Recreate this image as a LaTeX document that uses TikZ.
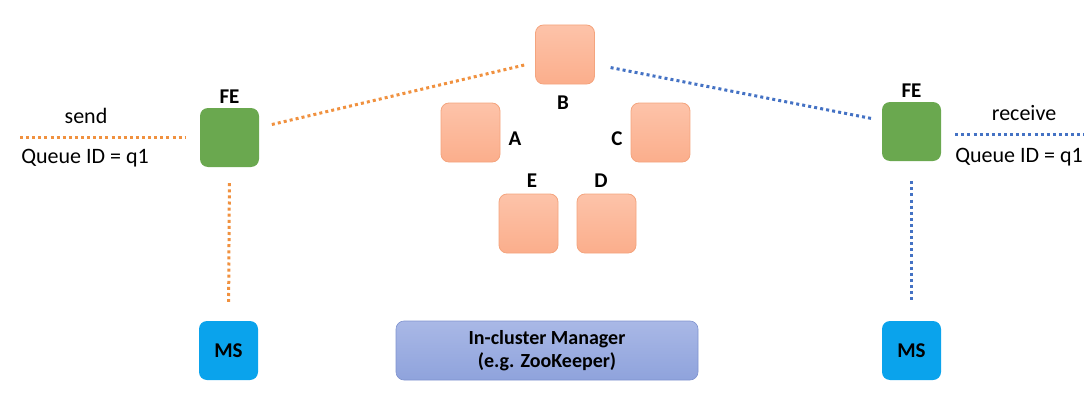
\documentclass[tikz,border=0pt]{standalone}
\usepackage{fontspec}
\setmainfont{Carlito}
\usetikzlibrary{positioning, calc}

\definecolor{feGreen}{HTML}{6AA84F}
\definecolor{msBlue}{HTML}{0AA3EC}
\definecolor{nodeTop}{HTML}{FDC3A9}
\definecolor{nodeBot}{HTML}{FBAE8C}
\definecolor{nodeLine}{HTML}{F4A47E}
\definecolor{mgrTop}{HTML}{A9B8E6}
\definecolor{mgrBot}{HTML}{8FA3DC}
\definecolor{mgrLine}{HTML}{7F93CF}
\definecolor{lineOrange}{HTML}{F0913F}
\definecolor{lineBlue}{HTML}{4472C4}

\begin{document}
\begin{tikzpicture}[x=1pt, y=-1pt,
    box/.style={rounded corners=8pt, minimum width=59pt, minimum height=59pt, inner sep=0pt},
    fe/.style={box, fill=feGreen},
    ms/.style={box, fill=msBlue, font=\fontsize{21}{23}\selectfont\bfseries},
    broker/.style={box, draw=nodeLine, line width=0.8pt, top color=nodeTop, bottom color=nodeBot},
    tag/.style={font=\fontsize{21}{23}\selectfont\bfseries},
    plain/.style={font=\fontsize{22}{24}\selectfont},
    dots/.style={line width=3pt, dash pattern=on 3pt off 3.1pt},
    orangedots/.style={dots, draw=lineOrange},
    bluedots/.style={dots, draw=lineBlue}
]
    \useasboundingbox (0,0) rectangle (1084,412);

    % Front ends
    \node[fe] (feL) at (229.5,137.5) {};
    \node[fe] (feR) at (911.5,131.5) {};
    \node[tag, above=1pt of feL] (feLlab) {FE};
    \node[tag, above=1pt of feR] (feRlab) {FE};

    % Message stores
    \node[ms] (msL) at (228.5,350.5) {MS};
    \node[ms] (msR) at (911.5,350.5) {MS};

    % Brokers
    \node[broker] (nB) at (565,54.5) {};
    \node[broker] (nA) at (470.5,132.5) {};
    \node[broker] (nC) at (660.5,132.5) {};
    \node[broker] (nE) at (528.5,223.5) {};
    \node[broker] (nD) at (606.5,223.5) {};
    \node[tag] (labB) at (563,103) {B};
    \node[tag] (labA) at (515,139) {A};
    \node[tag] (labC) at (617,139) {C};
    \node[tag] (labE) at (532,181) {E};
    \node[tag] (labD) at (601,181) {D};

    % Manager
    \node[rounded corners=8pt, minimum width=302pt, minimum height=59pt, draw=mgrLine, line width=0.6pt,
          top color=mgrTop, bottom color=mgrBot, align=center,
          font=\fontsize{20}{23}\selectfont\bfseries] (mgr) at (547,350.5) {In-cluster Manager\\(e.g. ZooKeeper)};

    % Client ends
    \coordinate (inL) at (20,137);
    \coordinate (outR) at (1090,134);
    \node[plain] (send) at (86,116) {send};
    \node[plain] (qidL) at (85,158) {Queue ID = q1};
    \node[plain] (recv) at (1024,113) {receive};
    \node[plain, anchor=east, inner xsep=1pt] (qidR) at (1084,157) {Queue ID = q1};

    % Send path
    \draw[orangedots, shorten >=15pt] (inL) -- (feL.west |- inL);
    \draw[orangedots, shorten <=13pt, shorten >=10pt] ($(feL.east)+(0,-10)$) -- ($(nB.west)+(0,8)$);
    \draw[orangedots, shorten <=16pt, shorten >=19pt] (feL.south) -- (msL.north);

    % Receive path
    \draw[bluedots, shorten <=16pt, shorten >=10pt] ($(nB.east)+(0,10)$) -- ($(feR.west)+(0,-11)$);
    \draw[bluedots, shorten <=14pt] (feR.east |- outR) -- (outR);
    \draw[bluedots, shorten <=20pt, shorten >=21pt] (feR.south) -- (msR.north);
\end{tikzpicture}
\end{document}
